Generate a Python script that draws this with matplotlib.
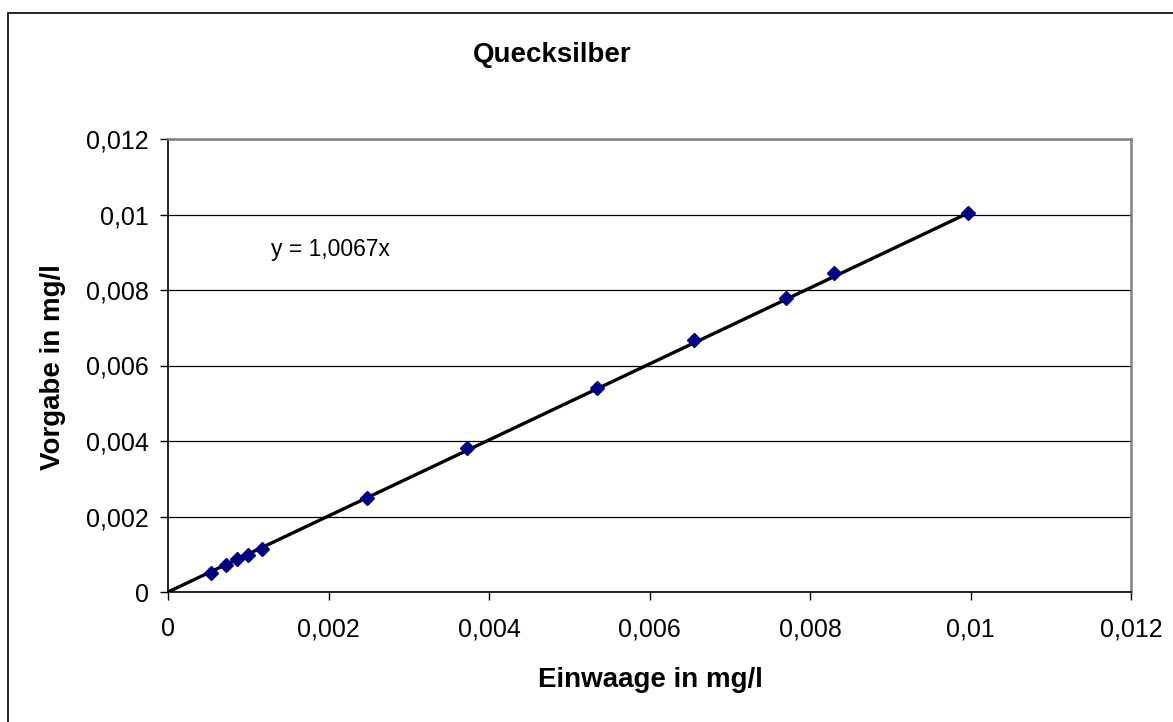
import matplotlib
matplotlib.use("Agg")
import matplotlib.pyplot as plt
from matplotlib.patches import Rectangle
from matplotlib.ticker import FuncFormatter
import numpy as np

einwaage = [0.000532, 0.000726, 0.000855, 0.001000, 0.001170, 0.002474,
            0.003720, 0.005346, 0.006554, 0.007696, 0.008294, 0.009966]
vorgabe = [0.000511, 0.000715, 0.000882, 0.000988, 0.001139, 0.002482,
           0.003807, 0.005396, 0.006675, 0.007780, 0.008442, 0.010032]
slope = 1.0067
ticks = [0, 0.002, 0.004, 0.006, 0.008, 0.010, 0.012]

plt.rcParams["font.family"] = ["Liberation Sans", "DejaVu Sans"]

fig = plt.figure(figsize=(11.73, 7.22), dpi=100)
ax = fig.add_axes([168/1173, 1-592/722, (1131-168)/1173, (592-139)/722])

##Outer chart border
fig.patches.append(Rectangle((8/1173, -0.05), 1.2, 1-13/722+0.05, transform=fig.transFigure,
                             fill=False, edgecolor="black", linewidth=1.2))

##Trendline and points
xt = np.array([0, max(einwaage)])
ax.plot(xt, slope*xt, color="black", linewidth=2.4, zorder=3)
ax.plot(einwaage, vorgabe, linestyle="none", marker="D", markersize=7.5,
        color="#000080", markeredgecolor="#000080", zorder=4)

ax.set_xlim(0, 0.012)
ax.set_ylim(0, 0.012)
ax.set_xticks(ticks)
ax.set_yticks(ticks)
fmt = FuncFormatter(lambda v, p: "0" if v == 0 else f"{v:.3f}".rstrip("0").replace(".", ","))
ax.xaxis.set_major_formatter(fmt)
ax.yaxis.set_major_formatter(fmt)
ax.tick_params(direction="out", length=6, width=1, labelsize=18, color="black")
ax.tick_params(axis="x", pad=12)
ax.tick_params(axis="y", pad=8)

ax.grid(axis="y", color="black", linewidth=0.9)
ax.set_axisbelow(True)
for s in ["top", "right"]:
    ax.spines[s].set_color("#808080")
    ax.spines[s].set_linewidth(1.8)
for s in ["left", "bottom"]:
    ax.spines[s].set_color("black")
    ax.spines[s].set_linewidth(1.2)

ax.text(0.00128, 0.00906, "y = 1,0067x", fontsize=16.5, va="center", ha="left")

fig.text(552/1173, 1-55/722, "Quecksilber", fontsize=20, fontweight="bold", ha="center", va="center")
fig.text(650/1173, 1-680/722, "Einwaage in mg/l", fontsize=20, fontweight="bold", ha="center", va="center")
fig.text(53/1173, 1-367/722, "Vorgabe in mg/l", fontsize=20, fontweight="bold", ha="center", va="center", rotation=90)

plt.savefig("out.png", dpi=100)
plt.close()
